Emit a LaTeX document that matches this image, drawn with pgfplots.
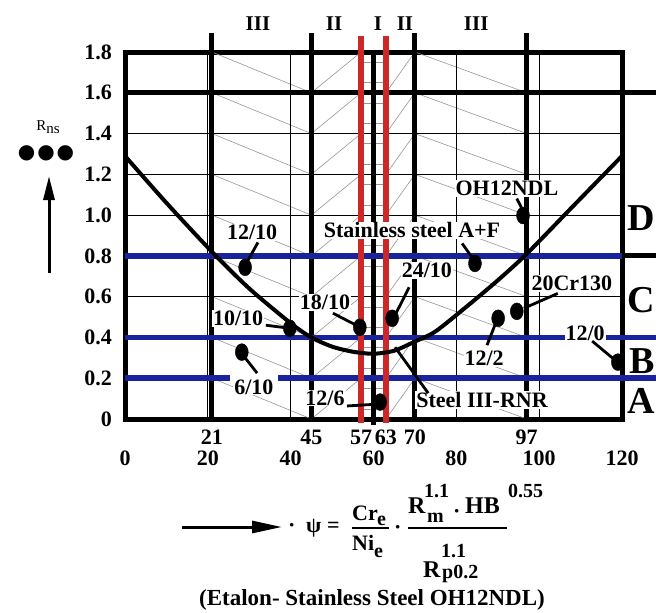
\documentclass[border=0pt]{standalone}
\usepackage{pgfplots}
\pgfplotsset{compat=1.18}
\usepackage{fontspec}
\setmainfont{Liberation Serif}
\newfontfamily\symfont{DejaVu Sans}
\usetikzlibrary{arrows.meta}

\definecolor{zoneblue}{RGB}{25,35,155}
\definecolor{zonered}{RGB}{205,40,40}
\definecolor{hatch}{RGB}{150,150,150}

\newcommand{\lbl}{\fontsize{22}{24}\selectfont\bfseries}
\newcommand{\scr}{\fontsize{20}{22}\selectfont\bfseries}

\begin{document}
\begin{tikzpicture}[x=1pt,y=-1pt]
\begin{axis}[
  at={(125pt,-419pt)}, anchor=south west,
  scale only axis,
  width=497pt, height=367pt,
  xmin=0, xmax=120, ymin=0, ymax=1.8,
  clip=false,
  unbounded coords=jump,
  axis line style={line width=5pt, line cap=rect},
  major tick length=0pt,
  xtick={0,20,40,60,80,100,120},
  xticklabels={0,20,40,60,80,100,120},
  extra x ticks={21,45,57,63,70,97},
  extra x tick labels={21,45,57,63,70,97},
  extra x tick style={xticklabel style={yshift=21pt}},
  ytick={0,0.2,0.4,0.6,0.8,1.0,1.2,1.4,1.6,1.8},
  yticklabels={0,0.2,0.4,0.6,0.8,1.0,1.2,1.4,1.6,1.8},
  xticklabel style={font=\lbl, anchor=center, inner sep=0pt, yshift=-39pt},
  yticklabel style={font=\lbl, anchor=east, inner sep=0pt, xshift=-13pt},
]
% light hatching of the zones
\addplot[hatch, line width=0.6pt] coordinates {
 (21,1.8)(45,1.6) (nan,nan) (21,1.6)(45,1.4) (nan,nan) (21,1.4)(45,1.2) (nan,nan)
 (21,1.2)(45,1.0) (nan,nan) (21,1.0)(45,0.8) (nan,nan) (21,0.8)(45,0.6) (nan,nan)
 (21,0.6)(45,0.4) (nan,nan) (21,0.4)(45,0.2) (nan,nan) (21,0.2)(45,0)};
\addplot[hatch, line width=0.6pt] coordinates {
 (45,0)(57,0.2) (nan,nan) (45,0.2)(57,0.4) (nan,nan) (45,0.4)(57,0.6) (nan,nan)
 (45,0.6)(57,0.8) (nan,nan) (45,0.8)(57,1.0) (nan,nan) (45,1.0)(57,1.2) (nan,nan)
 (45,1.2)(57,1.4) (nan,nan) (45,1.4)(57,1.6) (nan,nan) (45,1.6)(57,1.8)};
\addplot[hatch, line width=0.6pt] coordinates {
 (63,0)(70,0.2) (nan,nan) (63,0.2)(70,0.4) (nan,nan) (63,0.4)(70,0.6) (nan,nan)
 (63,0.6)(70,0.8) (nan,nan) (63,0.8)(70,1.0) (nan,nan) (63,1.0)(70,1.2) (nan,nan)
 (63,1.2)(70,1.4) (nan,nan) (63,1.4)(70,1.6) (nan,nan) (63,1.6)(70,1.8)};
\addplot[hatch, line width=0.6pt] coordinates {
 (70,1.8)(97,1.6) (nan,nan) (70,1.6)(97,1.4) (nan,nan) (70,1.4)(97,1.2) (nan,nan)
 (70,1.2)(97,1.0) (nan,nan) (70,1.0)(97,0.8) (nan,nan) (70,0.8)(97,0.6) (nan,nan)
 (70,0.6)(97,0.4) (nan,nan) (70,0.4)(97,0.2) (nan,nan) (70,0.2)(97,0)};
\addplot[hatch, line width=0.6pt] coordinates {
 (57,0.05)(63,0.05) (nan,nan) (57,0.15)(63,0.15) (nan,nan) (57,0.25)(63,0.25) (nan,nan)
 (57,0.35)(63,0.35) (nan,nan) (57,0.45)(63,0.45) (nan,nan) (57,0.55)(63,0.55) (nan,nan)
 (57,0.65)(63,0.65) (nan,nan) (57,0.75)(63,0.75) (nan,nan) (57,0.85)(63,0.85) (nan,nan)
 (57,0.95)(63,0.95) (nan,nan) (57,1.05)(63,1.05) (nan,nan) (57,1.15)(63,1.15) (nan,nan)
 (57,1.25)(63,1.25) (nan,nan) (57,1.35)(63,1.35) (nan,nan) (57,1.45)(63,1.45) (nan,nan)
 (57,1.55)(63,1.55) (nan,nan) (57,1.65)(63,1.65) (nan,nan) (57,1.75)(63,1.75)};
% thin grid
\addplot[black, line width=0.8pt] coordinates {
 (20,0)(20,1.8) (nan,nan) (40,0)(40,1.8) (nan,nan) (80,0)(80,1.8) (nan,nan) (100,0)(100,1.8) (nan,nan)
 (0,0.6)(120,0.6) (nan,nan) (0,1.0)(120,1.0) (nan,nan) (0,1.2)(120,1.2) (nan,nan) (0,1.4)(120,1.4)};
% zone boundaries
\addplot[black, line width=5pt] coordinates {(0,1.6)(130,1.6)};
\addplot[black, line width=5pt] coordinates {
 (21,0)(21,1.893) (nan,nan) (45,0)(45,1.893) (nan,nan) (70,0)(70,1.893) (nan,nan) (97,0)(97,1.893)};
\addplot[black, line width=5pt] coordinates {(60,-0.03)(60,1.8)};
\addplot[zoneblue, line width=5.5pt] coordinates {(0,0.8)(120,0.8)};
\addplot[black, line width=5pt] coordinates {(120,0.8)(130,0.8)};
\addplot[zoneblue, line width=5.5pt] coordinates {(0,0.4)(130,0.4)};
\addplot[zoneblue, line width=5.5pt] coordinates {(0,0.2)(25.4,0.2) (nan,nan) (36.9,0.2)(130,0.2)};
\addplot[zonered, line width=6pt] coordinates {(57,-0.02)(57,1.88) (nan,nan) (63,-0.02)(63,1.88)};
% R_ns curve
\addplot[black, line width=4pt, smooth, tension=0.45] coordinates {
 (0,1.29) (10,1.06) (21,0.82) (30,0.64) (40,0.47) (45,0.40) (50,0.355) (55,0.33)
 (60,0.32) (65,0.335) (70,0.38) (75,0.43) (83,0.56) (90,0.68) (97,0.81) (108,1.04) (120,1.29)};
% labels
\tikzset{lab/.style={font=\lbl, fill=white, inner sep=1pt}}
\node[lab] at (axis cs:30.7,0.915) {12/10};
\node[lab] at (axis cs:27.3,0.494) {10/10};
\node[lab] at (axis cs:31.1,0.157) {6/10};
\node[lab] at (axis cs:48.3,0.572) {18/10};
\node[lab] at (axis cs:72.9,0.729) {24/10};
\node[lab] at (axis cs:48.3,0.103) {12/6};
\node[lab] at (axis cs:69.3,0.925) {Stainless steel A+F};
\node[lab] at (axis cs:92.2,1.13) {OH12NDL};
\node[lab] at (axis cs:107.9,0.665) {20Cr130};
\node[lab] at (axis cs:86.7,0.298) {12/2};
\node[lab] at (axis cs:111.1,0.421) {12/0};
\node[lab] at (axis cs:86.2,0.093) {Steel III-RNR};
% leaders
\tikzset{lead/.style={line width=2.8pt}}
\draw[lead] (axis cs:32.1,0.866) -- (axis cs:29.0,0.753);
\draw[lead] (axis cs:34.0,0.46) -- (axis cs:39.8,0.445);
\draw[lead] (axis cs:31.9,0.225) -- (axis cs:28.7,0.308);
\draw[lead] (axis cs:50.2,0.519) -- (axis cs:56.3,0.455);
\draw[lead] (axis cs:68.6,0.646) -- (axis cs:65.2,0.509);
\draw[lead] (axis cs:53.6,0.064) -- (axis cs:61.1,0.073);
\draw[lead] (axis cs:81.4,0.861) -- (axis cs:84.3,0.778);
\draw[lead] (axis cs:94.6,1.081) -- (axis cs:96.1,1.022);
\draw[lead] (axis cs:104.5,0.616) -- (axis cs:96.3,0.543);
\draw[lead] (axis cs:87.4,0.362) -- (axis cs:89.6,0.475);
\draw[lead] (axis cs:112.8,0.382) -- (axis cs:118.3,0.289);
\draw[lead] (axis cs:73.2,0.127) -- (axis cs:65.2,0.352);
% steels
\addplot[only marks, mark=*, mark size=6.5pt, mark options={fill=black, draw=black, yscale=1.3}] coordinates {
 (29.0,0.744) (39.8,0.445) (28.2,0.328) (56.7,0.45) (64.5,0.494) (61.6,0.083)
 (84.5,0.763) (96.1,0.998) (94.6,0.528) (90.1,0.494) (119.0,0.279)};
% structure zones
\tikzset{zone/.style={font=\fontsize{21}{22}\selectfont\bfseries, inner sep=0pt}}
\node[zone] at (axis cs:32.1,1.94) {III};
\node[zone] at (axis cs:50.5,1.94) {II};
\node[zone] at (axis cs:61.1,1.94) {I};
\node[zone] at (axis cs:67.6,1.94) {II};
\node[zone] at (axis cs:84.8,1.94) {III};
\end{axis}

% classes on the right
\tikzset{cls/.style={font=\fontsize{38}{40}\selectfont\bfseries, anchor=base east, inner sep=0pt}}
\node[cls] at (655,230) {D};
\node[cls] at (655,312) {C};
\node[cls] at (655,373) {B};
\node[cls] at (655,413) {A};

% vertical axis caption
\node[font=\fontsize{15}{17}\selectfont, inner sep=0pt] at (48,127) {R\raisebox{-3pt}{ns}};
\node[font=\symfont\fontsize{20}{20}\selectfont, inner sep=0pt] at (46,153) {●\hspace{2pt}●\hspace{2pt}●};
\draw[line width=3pt, -{Triangle[length=24pt,width=11pt]}] (49,273) -- (49,176);

% horizontal axis formula
\draw[line width=3pt, -{Triangle[length=30pt,width=12pt]}] (182,527) -- (282,527);
\tikzset{fm/.style={font=\lbl, anchor=base west, inner sep=0pt},
         fs/.style={font=\scr, anchor=base west, inner sep=0pt}}
\node[fm] at (288,532) {·};
\node[fm] at (306,532) {ψ};
\node[fm] at (327,532) {=};
\node[fm] at (352,520) {Cr};
\node[fs] at (377,525) {e};
\draw[line width=2pt] (352,528) -- (389,528);
\node[fm] at (352,550) {Ni};
\node[fs] at (374,557) {e};
\node[fm] at (394,534) {·};
\draw[line width=2.5pt] (408,528) -- (507,528);
\node[fm, font=\fontsize{24}{26}\selectfont\bfseries] at (408,513) {R};
\node[fs] at (424,497) {1.1};
\node[fs] at (427,522) {m};
\node[fm] at (453,518) {·};
\node[fm, font=\fontsize{24}{26}\selectfont\bfseries] at (465,513) {HB};
\node[fs] at (508,497) {0.55};
\node[fm, font=\fontsize{24}{26}\selectfont\bfseries] at (423,577) {R};
\node[fs] at (441,557) {1.1};
\node[fs] at (442,578) {p0.2};
\node[font=\fontsize{23}{25}\selectfont\bfseries, inner sep=0pt] at (372,600) {(Etalon- Stainless Steel OH12NDL)};

\pgfresetboundingbox
\path[use as bounding box] (0,0) rectangle (656,613);
\end{tikzpicture}
\end{document}
